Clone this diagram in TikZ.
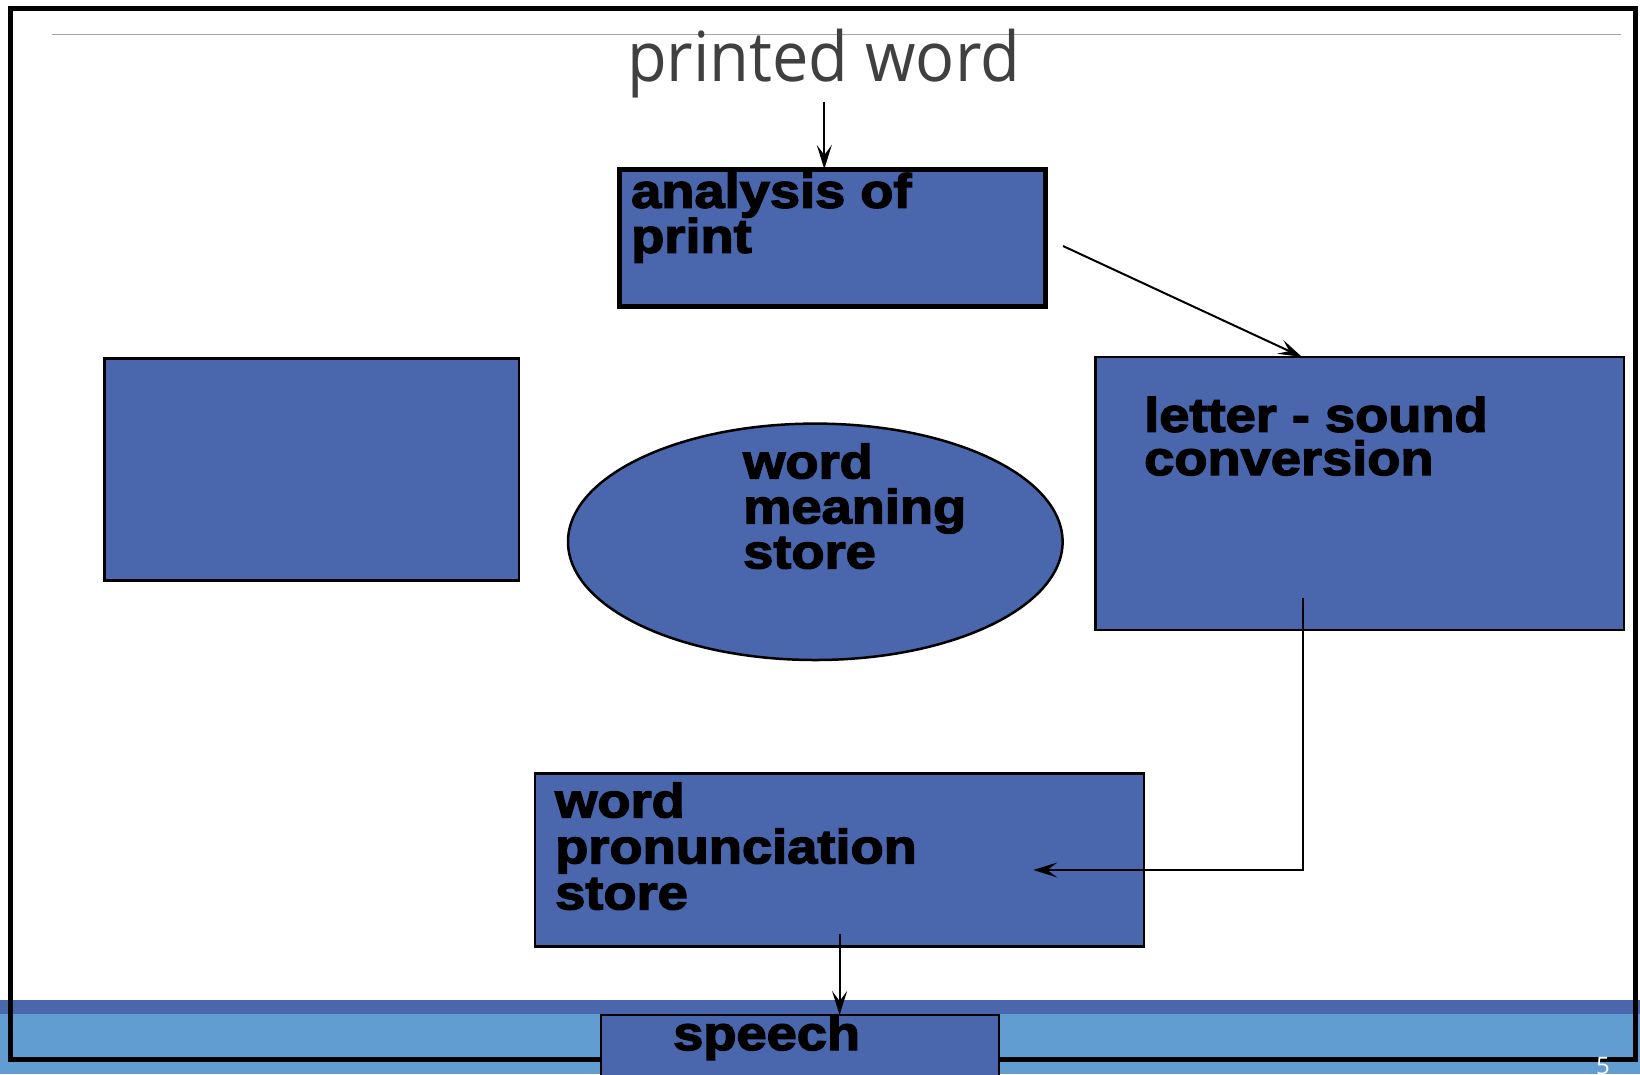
\documentclass[tikz,border=0pt]{standalone}
\usepackage{fontspec}
\usetikzlibrary{arrows.meta,shapes.geometric}
\newfontfamily\heavyfont[FakeBold=3,FakeStretch=1.13]{Liberation Sans}
\newfontfamily\titlefont{Open Sans}
\definecolor{boxblue}{RGB}{74,103,174}
\definecolor{lightband}{RGB}{98,157,209}
\definecolor{titlegray}{RGB}{64,64,64}
\definecolor{rulegray}{RGB}{165,165,165}
\begin{document}
\begin{tikzpicture}[x=1pt,y=-1pt,
  box/.style={draw=black,fill=boxblue,line width=2.5pt,inner sep=0pt,outer sep=0pt,anchor=north west},
  lbl/.style={font=\heavyfont\bfseries\fontsize{48}{45}\selectfont,inner sep=0pt,align=left,anchor=base west},
  arr/.style={line width=2pt,-{Stealth[length=24pt,width=15pt,inset=10pt]}}]
\useasboundingbox (0,0) rectangle (1640,1074);
\begin{scope}
\clip (0,0) rectangle (1640,1074);
\fill[white] (0,0) rectangle (1640,1074);
\fill[boxblue] (0,1000) rectangle (1640,1014);
\fill[lightband] (0,1014) rectangle (1640,1074);
\draw[line width=5pt] (10.5,8.5) rectangle (1635.8,1059);
\draw[rulegray,line width=1.5pt] (52,34.5) -- (1621,34.5);
\node[font=\titlefont\fontsize{69}{80}\selectfont,text=titlegray,inner sep=0pt,anchor=base west] (title) at (627,81.7) {\scalebox{0.94}[1]{printed word}};
% boxes
\node[box,line width=5pt,minimum width=426pt,minimum height=137.5pt] (analysis) at (619,169) {};
\node[box,minimum width=414.2pt,minimum height=221.8pt] (blank) at (104.6,358.7) {};
\node[box,ellipse,anchor=center,minimum width=494.6pt,minimum height=236.4pt] (meaning) at (815.3,541.8) {};
\node[box,minimum width=528.5pt,minimum height=273pt] (ls) at (1095.5,357) {};
\node[box,minimum width=609pt,minimum height=173.4pt] (wp) at (535,773.3) {};
\node[box,minimum width=398pt,minimum height=90pt] (speech) at (601,1015) {};
% texts (anchor = baseline of the last line)
\node[lbl] (analysis-t) at (631,252.7) {analysis of\\print};
\node[lbl] (meaning-t) at (743,568.3) {word\\meaning\\store};
\node[lbl,font=\heavyfont\bfseries\fontsize{48}{43.3}\selectfont] (ls-t) at (1144,475) {letter - sound\\conversion};
\node[lbl,font=\heavyfont\bfseries\fontsize{48}{46}\selectfont] (wp-t) at (555,909.3) {word\\pronunciation\\store};
\node[lbl] (speech-t) at (673,1050) {speech};
\node[font=\titlefont\fontsize{24}{24}\selectfont,text=white,anchor=north west,inner sep=0pt] (num) at (1596,1057) {5};
% connectors
\coordinate (t1) at (824.3,101.7);
\draw[arr] (t1) -- (t1 |- analysis.north);
\coordinate (d1) at (1063,246);
\coordinate (d2) at (1302,0);
\draw[arr] (d1) -- (d2 |- ls.north);
\coordinate (v1) at (1303.3,598.3);
\coordinate (v2) at (1033.3,870);
\draw[arr] (v1) |- (v2);
\coordinate (s1) at (839.6,934.3);
\draw[arr] (s1) -- (s1 |- speech.north);
\end{scope}
\end{tikzpicture}
\end{document}
